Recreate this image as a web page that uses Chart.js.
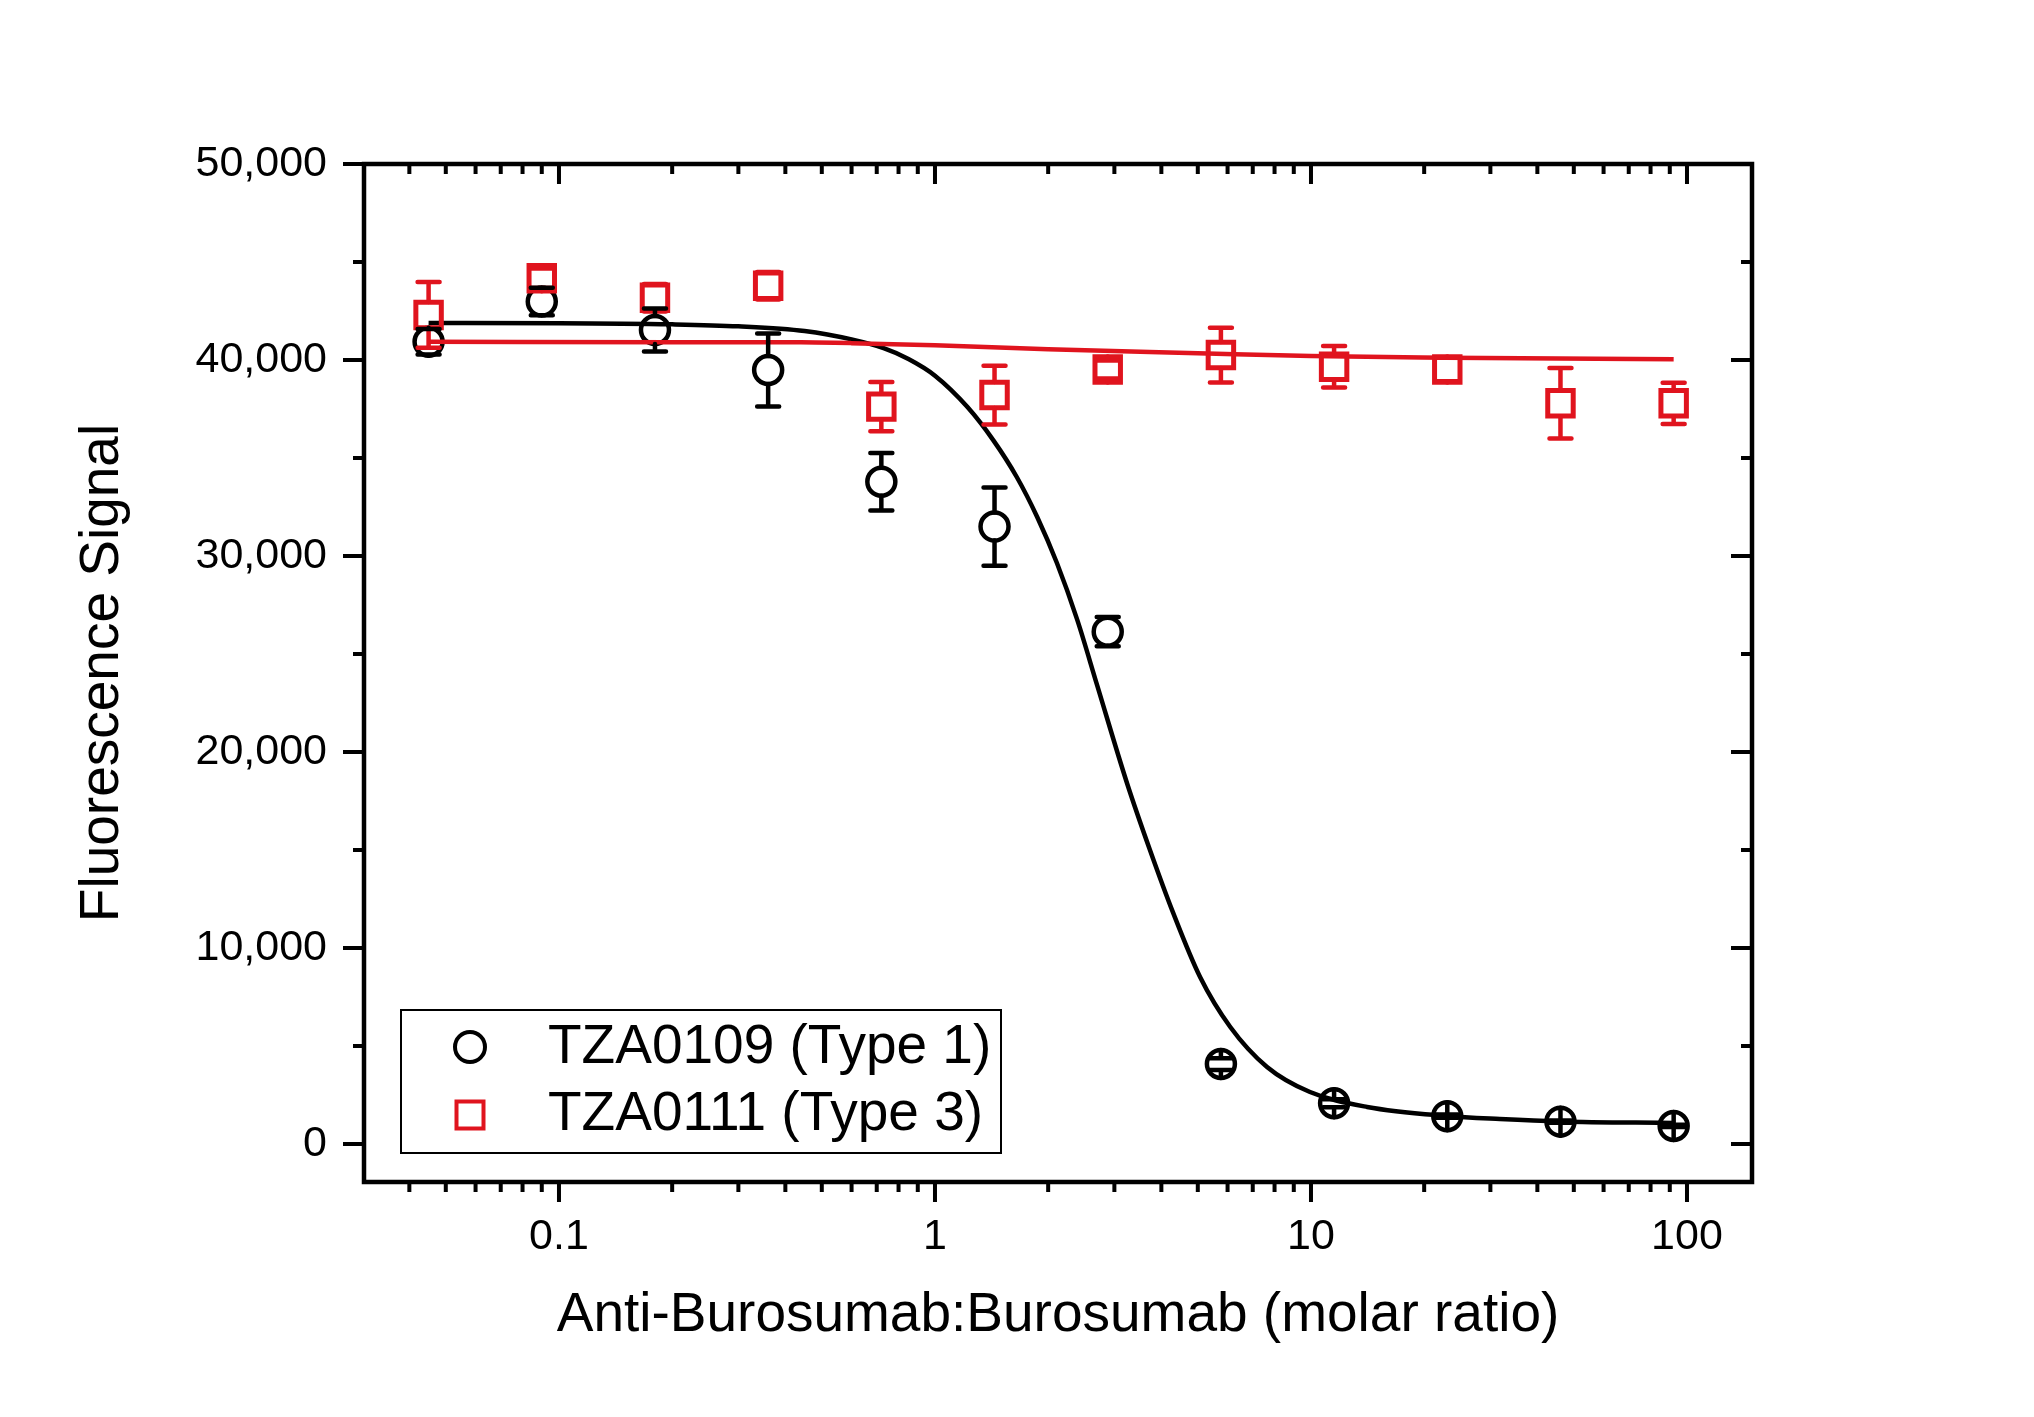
<!DOCTYPE html>
<html>
<head>
<meta charset="utf-8">
<title>Fluorescence Signal vs Anti-Burosumab:Burosumab</title>
<script src="https://cdn.jsdelivr.net/npm/chart.js@4.4.1/dist/chart.umd.min.js"></script>
<style>
  html, body { margin: 0; padding: 0; background: #fff; }
  #wrap { width: 2034px; height: 1417px; }
</style>
</head>
<body>
<div id="wrap"><canvas id="myChart" width="2034" height="1417"></canvas></div>
<script>
// molar ratios (x) shared by both series
const ratios = [0.045, 0.09, 0.18, 0.36, 0.72, 1.44, 2.88, 5.76, 11.52, 23.04, 46.08, 92.16];

const type1Signal = [40930, 42980, 41530, 39490, 33790, 31500, 26140, 4080, 2080, 1420, 1140, 920];
const type1Error  = [650, 700, 1100, 1860, 1470, 2000, 750, 300, 200, 80, 60, 60];
const type3Signal = [42300, 44170, 43180, 43790, 37620, 38210, 39520, 40250, 39660, 39520, 37790, 37790];
const type3Error  = [1680, 500, 700, 700, 1260, 1500, 460, 1400, 1060, 600, 1800, 1050];

// fitted curves
const type1FitX = [0.045, 0.1, 0.2, 0.3, 0.45, 0.6, 0.73, 0.85, 1.0, 1.22, 1.43, 1.65, 1.87, 2.11, 2.39, 2.7, 3.24, 3.73, 4.3, 5.07, 6.1, 7.64, 9.94, 14.1, 23, 31.8, 46, 92.16];
const type1FitY = [41890, 41880, 41820, 41720, 41480, 41050, 40600, 40050, 39200, 37600, 35900, 34030, 31990, 29640, 26740, 23400, 18420, 15000, 11790, 8520, 5970, 3930, 2650, 1890, 1430, 1275, 1150, 1070];
const type3FitX = [0.045, 0.2, 0.44, 0.6, 1, 2, 5, 10, 23, 92.16];
const type3FitY = [40930, 40910, 40900, 40860, 40750, 40550, 40350, 40200, 40120, 40040];

const seriesNames = ['TZA0109 (Type 1)', 'TZA0111 (Type 3)'];
const xTicks = [0.1, 1, 10, 100];
const xTickLabels = ['0.1', '1', '10', '100'];
const yTicks = [0, 10000, 20000, 30000, 40000, 50000];
const yTickLabels = ['0', '10,000', '20,000', '30,000', '40,000', '50,000'];
const yMinorTicks = [5000, 15000, 25000, 35000, 45000];

const RED = '#e0141e';
const FONT = "'Liberation Sans', Arial, sans-serif";

function pairs(xs, ys) {
	return xs.map(function(x, i) { return {x: x, y: ys[i]}; });
}

const errorBars = {
	id: 'errorBars',
	afterDatasetsDraw: function(chart) {
		const ctx = chart.ctx, xs = chart.scales.x, ys = chart.scales.y;
		chart.data.datasets.forEach(function(ds) {
			if (!ds.errors) return;
			ctx.save();
			ctx.strokeStyle = ds.borderColor;
			ctx.lineWidth = 4.5;
			ctx.lineCap = 'round';
			ds.data.forEach(function(p, j) {
				const e = ds.errors[j];
				const px = xs.getPixelForValue(p.x);
				const py = ys.getPixelForValue(p.y);
				const top = ys.getPixelForValue(p.y + e);
				const bot = ys.getPixelForValue(p.y - e);
				const r = ds.markerHalf;
				ctx.beginPath();
				ctx.moveTo(px, py - r); ctx.lineTo(px, top);
				ctx.moveTo(px, py + r); ctx.lineTo(px, bot);
				ctx.moveTo(px - 11, top); ctx.lineTo(px + 11, top);
				ctx.moveTo(px - 11, bot); ctx.lineTo(px + 11, bot);
				ctx.stroke();
			});
			ctx.restore();
		});
	}
};

const frameAndTicks = {
	id: 'frameAndTicks',
	afterDraw: function(chart) {
		const ctx = chart.ctx, a = chart.chartArea, xs = chart.scales.x, ys = chart.scales.y;
		ctx.save();
		ctx.strokeStyle = '#000';
		ctx.lineWidth = 4.5;
		ctx.beginPath();
		ctx.rect(a.left, a.top, a.right - a.left, a.bottom - a.top);
		ctx.stroke();

		ctx.lineWidth = 4;
		ctx.beginPath();
		function xTick(v, len) {
			const px = xs.getPixelForValue(v);
			ctx.moveTo(px, a.bottom); ctx.lineTo(px, a.bottom + len);
			ctx.moveTo(px, a.top); ctx.lineTo(px, a.top + len);
		}
		function yTick(v, len) {
			const py = ys.getPixelForValue(v);
			ctx.moveTo(a.left - len, py); ctx.lineTo(a.left, py);
			ctx.moveTo(a.right - len, py); ctx.lineTo(a.right, py);
		}
		xTicks.forEach(function(v) { xTick(v, 20); });
		for (let p = -2; p <= 2; p++) {
			for (let m = 2; m <= 9; m++) {
				const v = m * Math.pow(10, p);
				if (v > xs.min && v < xs.max) xTick(v, 10);
			}
		}
		yTicks.forEach(function(v) { yTick(v, 21); });
		yMinorTicks.forEach(function(v) { yTick(v, 11); });
		ctx.stroke();

		// legend box
		const lx = a.left + 37, ly = a.top + 846;
		ctx.lineWidth = 2;
		ctx.strokeRect(lx, ly, 600, 143);
		ctx.lineWidth = 4;
		ctx.beginPath();
		ctx.arc(lx + 69, ly + 37, 15, 0, Math.PI * 2);
		ctx.stroke();
		ctx.strokeStyle = RED;
		ctx.strokeRect(lx + 69 - 13.5, ly + 105 - 13.5, 27, 27);
		ctx.fillStyle = '#000';
		ctx.font = '55px ' + FONT;
		ctx.textBaseline = 'middle';
		ctx.textAlign = 'left';
		ctx.fillText(seriesNames[0], lx + 147, ly + 38);
		ctx.fillText(seriesNames[1], lx + 147, ly + 105);
		ctx.restore();
	}
};

function graph() {
	const ctx = document.getElementById('myChart').getContext('2d');
	new Chart(ctx, {
		type: 'scatter',
		data: {
			datasets: [
				{
					label: seriesNames[1],
					data: pairs(ratios, type3Signal),
					errors: type3Error,
					markerHalf: 13,
					pointStyle: 'rect',
					pointRadius: 18,
					borderWidth: 5,
					borderColor: RED,
					backgroundColor: 'rgba(0,0,0,0)',
					order: 0
				},
				{
					label: 'fit 3',
					data: pairs(type3FitX, type3FitY),
					showLine: true,
					pointRadius: 0,
					borderColor: RED,
					borderWidth: 4.5,
					cubicInterpolationMode: 'monotone',
					order: 1
				},
				{
					label: seriesNames[0],
					data: pairs(ratios, type1Signal),
					errors: type1Error,
					markerHalf: 14,
					pointStyle: 'circle',
					pointRadius: 14,
					borderWidth: 4.5,
					borderColor: '#000',
					backgroundColor: 'rgba(0,0,0,0)',
					order: 2
				},
				{
					label: 'fit 1',
					data: pairs(type1FitX, type1FitY),
					showLine: true,
					pointRadius: 0,
					borderColor: '#000',
					borderWidth: 4.5,
					cubicInterpolationMode: 'monotone',
					order: 3
				}
			]
		},
		options: {
			responsive: false,
			devicePixelRatio: 1,
			animation: false,
			events: [],
			layout: { padding: { top: 164, right: 282, left: 0, bottom: 0 } },
			plugins: {
				legend: { display: false },
				tooltip: { enabled: false }
			},
			scales: {
				x: {
					type: 'logarithmic',
					position: 'bottom',
					min: 0.0303,
					max: 148.9,
					afterFit: function(s) { s.height = 235; },
					afterBuildTicks: function(s) { s.ticks = xTicks.map(function(v) { return {value: v}; }); },
					grid: { display: false, drawTicks: false },
					border: { display: false },
					ticks: {
						autoSkip: false,
						maxRotation: 0,
						padding: 29,
						color: '#000',
						font: { family: FONT, size: 43 },
						callback: function(v, i) { return xTickLabels[i]; }
					},
					title: {
						display: true,
						text: 'Anti-Burosumab:Burosumab (molar ratio)',
						color: '#000',
						font: { family: FONT, size: 55 },
						padding: { top: 0, bottom: 68 }
					}
				},
				y: {
					type: 'linear',
					min: -1940,
					max: 50000,
					afterFit: function(s) { s.width = 364; },
					afterBuildTicks: function(s) { s.ticks = yTicks.map(function(v) { return {value: v}; }); },
					grid: { display: false, drawTicks: false },
					border: { display: false },
					ticks: {
						padding: 37,
						color: '#000',
						font: { family: FONT, size: 43 },
						callback: function(v, i) { return yTickLabels[i]; }
					},
					title: {
						display: true,
						text: 'Fluorescence Signal',
						color: '#000',
						font: { family: FONT, size: 55 },
						padding: { top: 70, bottom: 0 }
					}
				}
			}
		},
		plugins: [errorBars, frameAndTicks]
	});
}

document.addEventListener('DOMContentLoaded', function() {
	graph();
});
</script>
</body>
</html>
